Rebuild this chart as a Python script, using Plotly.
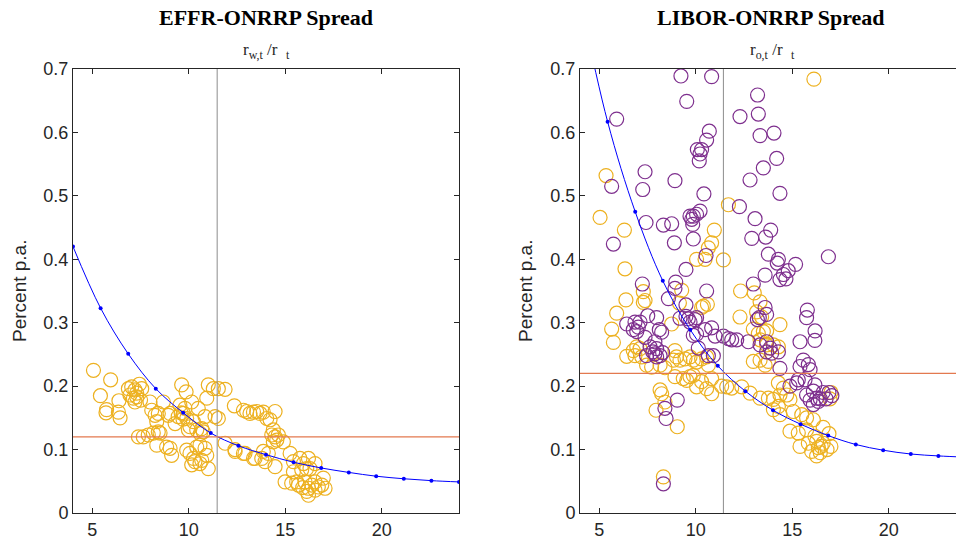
import plotly.graph_objects as go

# ---------------- data ----------------
# blue curve nodes (same x grid in both panels)
curve_x = [4.0, 5.43, 6.86, 8.29, 9.71, 11.14, 12.57, 14.0, 15.43, 16.86, 18.29, 19.71, 21.14, 22.57, 24.0]
effr_curve_y = [0.420, 0.323, 0.251, 0.196, 0.158, 0.126, 0.106, 0.092, 0.080, 0.071, 0.064, 0.058, 0.054, 0.051, 0.049]
libor_curve_y = [0.81, 0.617, 0.475, 0.366, 0.289, 0.232, 0.192, 0.162, 0.140, 0.122, 0.108, 0.099, 0.093, 0.090, 0.088]

effr_vline = 11.47
libor_vline = 11.43
effr_hline = 0.12
libor_hline = 0.22

effr_x = [5.06, 5.95, 5.42, 5.74, 5.71, 6.38, 6.35, 6.44, 6.87, 7.04, 7.21, 7.44, 6.95, 7.13, 7.30, 7.56, 7.21,
          7.99, 8.08, 8.25, 8.42, 8.34, 8.68, 8.94, 9.03, 9.29, 9.54, 9.63, 9.86, 10.15, 9.80, 9.72, 9.89, 10.06,
          10.24, 10.49, 10.84, 10.93, 11.01, 11.27, 11.36, 10.41, 10.75, 10.67, 9.98, 7.39, 7.64, 7.90, 8.16, 8.42,
          8.51, 8.34, 8.85, 9.03, 9.11, 9.89, 10.06, 10.24, 10.41, 10.58, 10.84, 10.93, 10.15, 10.32, 10.58, 11.01,
          10.67, 11.53, 11.88, 11.53, 12.36, 12.83, 13.00, 13.17, 13.35, 13.52, 13.69, 13.86, 14.04, 14.21, 14.47,
          14.38, 14.30, 14.47, 14.64, 14.56, 14.90, 14.38, 11.88, 12.40, 12.91, 13.35, 13.86, 13.95, 14.12, 14.47,
          15.25, 15.42, 15.76, 15.94, 16.20, 16.28, 16.11, 15.42, 15.85, 16.54, 14.99, 15.33, 15.59, 15.68, 16.02,
          16.20, 16.37, 16.54, 16.71, 16.89, 17.06, 16.11, 16.54, 16.97, 16.20, 15.90, 7.30, 7.50, 9.45, 9.60,
          9.70, 10.60, 12.39, 12.83, 13.43, 13.78]
effr_y = [0.225, 0.210, 0.185, 0.163, 0.158, 0.177, 0.159, 0.150, 0.196, 0.199, 0.194, 0.203, 0.186, 0.181, 0.189,
          0.196, 0.175, 0.175, 0.162, 0.154, 0.157, 0.144, 0.175, 0.154, 0.157, 0.141, 0.170, 0.202, 0.191, 0.175,
          0.165, 0.157, 0.149, 0.136, 0.144, 0.165, 0.152, 0.181, 0.202, 0.196, 0.152, 0.131, 0.128, 0.133, 0.131,
          0.120, 0.120, 0.123, 0.126, 0.128, 0.126, 0.107, 0.104, 0.102, 0.091, 0.099, 0.094, 0.086, 0.104, 0.107,
          0.102, 0.091, 0.076, 0.081, 0.078, 0.070, 0.083, 0.196, 0.195, 0.149, 0.169, 0.162, 0.160, 0.157, 0.159,
          0.160, 0.157, 0.159, 0.149, 0.147, 0.160, 0.131, 0.123, 0.120, 0.123, 0.115, 0.112, 0.112, 0.110, 0.097,
          0.094, 0.086, 0.097, 0.081, 0.094, 0.073, 0.094, 0.081, 0.086, 0.078, 0.086, 0.070, 0.070, 0.065, 0.068,
          0.078, 0.049, 0.047, 0.049, 0.044, 0.049, 0.039, 0.044, 0.049, 0.041, 0.044, 0.039, 0.034, 0.036, 0.055,
          0.028, 0.040, 0.183, 0.178, 0.152, 0.158, 0.148, 0.125, 0.100, 0.094, 0.086, 0.086]

libor_orange_x = [5.35, 5.04, 6.30, 10.96, 10.82, 10.65, 10.04, 10.48, 11.43, 11.69, 16.12, 12.32, 13.03, 13.33,
                  12.29, 14.36, 12.98, 13.67, 10.39, 10.60, 6.33, 7.28, 7.37, 7.28, 9.27, 9.15, 10.30, 6.38, 5.90,
                  5.64, 5.73, 8.75, 6.42, 6.76, 6.94, 7.11, 6.85, 7.20, 7.45, 7.71, 8.15, 8.40, 8.92, 9.00, 8.84,
                  9.18, 9.44, 9.70, 9.87, 10.04, 10.30, 10.65, 10.56, 8.92, 9.35, 9.53, 9.70, 9.87, 10.04, 10.30,
                  10.56, 10.82, 10.82, 11.34, 11.60, 8.15, 8.23, 7.94, 8.40, 9.04, 8.32, 13.15, 13.41, 13.24, 13.50,
                  13.33, 13.67, 14.02, 14.28, 12.98, 13.33, 13.59, 13.76, 11.86, 12.38, 12.81, 13.33, 13.76, 14.02,
                  14.28, 14.54, 14.36, 14.71, 14.88, 14.28, 14.02, 14.36, 15.05, 15.49, 15.74, 16.09, 14.88, 15.31,
                  15.74, 16.17, 16.26, 15.83, 15.40, 16.00, 16.35, 16.26, 17.00, 16.95, 16.60, 16.50, 16.80, 17.00,
                  16.60, 16.90, 16.45]
libor_orange_y = [0.532, 0.466, 0.446, 0.446, 0.426, 0.418, 0.400, 0.400, 0.399, 0.486, 0.684, 0.350, 0.347, 0.333,
                  0.309, 0.297, 0.290, 0.287, 0.326, 0.329, 0.385, 0.349, 0.335, 0.332, 0.351, 0.331, 0.324, 0.336,
                  0.315, 0.290, 0.269, 0.298, 0.247, 0.256, 0.262, 0.259, 0.248, 0.246, 0.233, 0.230, 0.233, 0.229,
                  0.256, 0.246, 0.241, 0.241, 0.243, 0.246, 0.241, 0.238, 0.243, 0.233, 0.246, 0.215, 0.212, 0.209,
                  0.215, 0.217, 0.199, 0.207, 0.196, 0.188, 0.212, 0.200, 0.199, 0.194, 0.188, 0.162, 0.175, 0.136,
                  0.057, 0.317, 0.309, 0.283, 0.286, 0.273, 0.265, 0.265, 0.262, 0.239, 0.241, 0.233, 0.239, 0.197,
                  0.199, 0.189, 0.181, 0.181, 0.179, 0.205, 0.197, 0.186, 0.186, 0.179, 0.168, 0.163, 0.155, 0.160,
                  0.155, 0.150, 0.147, 0.129, 0.126, 0.131, 0.121, 0.113, 0.110, 0.105, 0.097, 0.103, 0.090, 0.190,
                  0.180, 0.135, 0.105, 0.100, 0.105, 0.110, 0.125, 0.095]

libor_purple_x = [9.23, 10.82, 9.53, 5.90, 10.70, 10.56, 10.08, 10.30, 10.22, 10.18, 7.37, 8.92, 5.64, 7.25, 10.42,
                  10.22, 10.04, 9.87, 9.79, 9.70, 9.84, 7.42, 8.32, 8.75, 5.73, 8.89, 9.87, 10.53, 13.20, 12.29,
                  13.24, 13.33, 14.05, 14.19, 13.50, 12.81, 14.36, 12.26, 13.07, 12.90, 13.62, 13.88, 13.76, 14.28,
                  14.22, 14.79, 14.54, 14.36, 14.67, 15.17, 16.87, 13.59, 12.98, 10.56, 13.59, 13.67, 13.29, 13.19,
                  15.78, 15.74, 16.18, 10.82, 10.48, 16.17, 9.49, 7.23, 8.96, 8.92, 8.58, 9.49, 6.42, 6.85, 7.11,
                  6.76, 6.94, 7.02, 7.51, 7.97, 8.11, 8.23, 7.37, 7.88, 7.63, 7.97, 7.88, 7.97, 7.77, 8.15, 8.28,
                  7.45, 9.18, 9.49, 9.61, 9.70, 9.96, 10.04, 9.87, 10.04, 11.00, 11.43, 11.69, 10.13, 10.65, 10.91,
                  9.04, 8.40, 8.46, 12.12, 12.72, 13.33, 13.67, 13.85, 13.67, 13.93, 14.28, 11.86, 14.36, 15.40,
                  15.57, 15.40, 15.83, 15.92, 14.88, 15.23, 15.31, 15.66, 16.17, 16.09, 15.74, 16.26, 16.35, 16.09,
                  15.92, 8.32, 16.90, 17.05, 16.75, 16.60, 16.45]
libor_purple_y = [0.689, 0.688, 0.649, 0.621, 0.602, 0.588, 0.573, 0.573, 0.566, 0.555, 0.538, 0.524, 0.515, 0.510,
                  0.503, 0.476, 0.471, 0.468, 0.463, 0.468, 0.455, 0.458, 0.454, 0.456, 0.424, 0.426, 0.432, 0.406,
                  0.659, 0.625, 0.629, 0.595, 0.599, 0.559, 0.544, 0.525, 0.504, 0.483, 0.464, 0.433, 0.435, 0.446,
                  0.408, 0.400, 0.394, 0.382, 0.376, 0.368, 0.369, 0.392, 0.404, 0.375, 0.361, 0.350, 0.324, 0.313,
                  0.308, 0.305, 0.320, 0.308, 0.287, 0.292, 0.289, 0.272, 0.384, 0.361, 0.364, 0.354, 0.338, 0.328,
                  0.298, 0.301, 0.301, 0.289, 0.286, 0.293, 0.311, 0.308, 0.289, 0.285, 0.277, 0.270, 0.262, 0.259,
                  0.251, 0.246, 0.254, 0.248, 0.253, 0.248, 0.307, 0.310, 0.306, 0.301, 0.305, 0.308, 0.280, 0.282,
                  0.279, 0.279, 0.275, 0.260, 0.248, 0.248, 0.178, 0.165, 0.149, 0.273, 0.270, 0.265, 0.270, 0.260,
                  0.254, 0.252, 0.254, 0.273, 0.228, 0.270, 0.241, 0.231, 0.234, 0.226, 0.200, 0.205, 0.210, 0.210,
                  0.202, 0.192, 0.186, 0.181, 0.176, 0.171, 0.178, 0.046, 0.190, 0.185, 0.180, 0.190, 0.180]

y_ticks = [0, 0.1, 0.2, 0.3, 0.4, 0.5, 0.6, 0.7]
x_ticks = [5, 10, 15, 20]

# ---------------- styling ----------------
W, H = 956, 544
TOP, BOTTOM = 69, 513
ORANGE = "#EDB120"
PURPLE = "#7E2F8E"
BLUE = "#0000FF"
RED = "#E3794F"
GRAY = "#8C8C8C"
AX = "#262626"
TICKFONT = dict(family="Liberation Sans, Arial, sans-serif", size=18, color=AX)

def py(p):
    return (BOTTOM - p) / (BOTTOM - TOP)

fig = go.Figure()

circ = dict(symbol="circle-open", size=14, line=dict(width=1.2))

# left panel
fig.add_trace(go.Scatter(x=effr_x, y=effr_y, mode="markers", xaxis="x", yaxis="y",
                         marker=dict(color=ORANGE, **circ), showlegend=False))
fig.add_trace(go.Scatter(x=curve_x, y=effr_curve_y, mode="lines+markers", xaxis="x", yaxis="y",
                         line=dict(color=BLUE, width=1, shape="spline"), marker=dict(color=BLUE, size=4),
                         showlegend=False))
# right panel
fig.add_trace(go.Scatter(x=libor_orange_x, y=libor_orange_y, mode="markers", xaxis="x2", yaxis="y2",
                         marker=dict(color=ORANGE, **circ), showlegend=False))
fig.add_trace(go.Scatter(x=libor_purple_x, y=libor_purple_y, mode="markers", xaxis="x2", yaxis="y2",
                         marker=dict(color=PURPLE, **circ), showlegend=False))
fig.add_trace(go.Scatter(x=curve_x, y=libor_curve_y, mode="lines+markers", xaxis="x2", yaxis="y2",
                         line=dict(color=BLUE, width=1, shape="spline"), marker=dict(color=BLUE, size=4),
                         showlegend=False))

shapes = [
    dict(type="line", xref="x", yref="y", x0=effr_vline, x1=effr_vline, y0=0, y1=0.7, line=dict(color=GRAY, width=1)),
    dict(type="line", xref="x", yref="y", x0=4, x1=24, y0=effr_hline, y1=effr_hline, line=dict(color=RED, width=1.2)),
    dict(type="line", xref="x2", yref="y2", x0=libor_vline, x1=libor_vline, y0=0, y1=0.7, line=dict(color=GRAY, width=1)),
    dict(type="line", xref="x2", yref="y2", x0=4, x1=24, y0=libor_hline, y1=libor_hline, line=dict(color=RED, width=1.2)),
]

axis_common = dict(showgrid=False, zeroline=False, showline=True, linecolor=AX, linewidth=1,
                   ticks="inside", ticklen=5, tickcolor=AX, tickwidth=1, tickfont=TICKFONT, automargin=False)

fig.update_layout(
    width=W, height=H,
    margin=dict(l=0, r=0, t=TOP, b=H - BOTTOM),
    paper_bgcolor="white", plot_bgcolor="white",
    xaxis=dict(domain=[73 / W, 459 / W], range=[4, 24], tickvals=x_ticks, mirror="ticks", anchor="y", **axis_common),
    yaxis=dict(domain=[0, 1], range=[0, 0.7], tickvals=y_ticks, ticktext=[f"{v:g}" for v in y_ticks],
               mirror="ticks", anchor="x", **axis_common),
    xaxis2=dict(domain=[580 / W, 1.0], range=[4, 4 + (956 - 580) / 19.3], tickvals=x_ticks, mirror="ticks",
                anchor="y2", **axis_common),
    yaxis2=dict(domain=[0, 1], range=[0, 0.7], tickvals=y_ticks, ticktext=[f"{v:g}" for v in y_ticks],
                mirror=False, anchor="x2", **axis_common),
    shapes=shapes,
)

serif_b = dict(family="Liberation Serif, Times New Roman, serif", size=22, color="black")
serif = dict(family="Liberation Serif, Times New Roman, serif", size=17, color=AX)
sans = dict(family="Liberation Sans, Arial, sans-serif", size=19, color=AX)

annotations = [
    dict(text="<b>EFFR-ONRRP Spread</b>", x=266 / W, y=py(18), font=serif_b),
    dict(text="<b>LIBOR-ONRRP Spread</b>", x=771 / W, y=py(18), font=serif_b),
    dict(text="r<sub>w,t</sub> /r  <sub>t</sub>", x=266 / W, y=py(51), font=serif),
    dict(text="r<sub>o,t</sub> /r  <sub>t</sub>", x=772 / W, y=py(51), font=serif),
    dict(text="Percent p.a.", x=19 / W, y=py(291), textangle=-90, font=sans),
    dict(text="Percent p.a.", x=525 / W, y=py(291), textangle=-90, font=sans),
]
for a in annotations:
    a.update(xref="paper", yref="paper", showarrow=False, xanchor="center", yanchor="middle")
fig.update_layout(annotations=annotations)

# the page's default 8px body margin would shift the figure; remove it
fig.write_html("out.html", config={"displayModeBar": False},
               post_script="document.body.style.margin='0px';document.body.style.overflow='hidden';")
